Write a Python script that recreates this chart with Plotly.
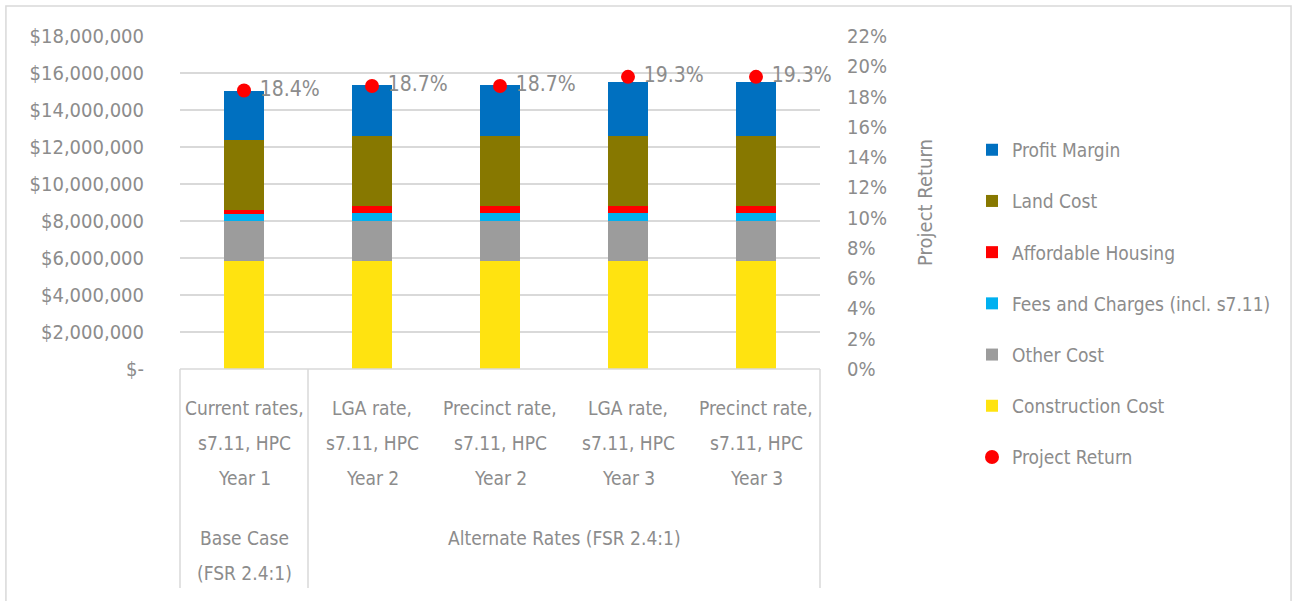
import plotly.graph_objects as go

# Scenario categories (x axis, inner level), one string per line
categories = [
    ["Current rates,", "s7.11, HPC", "Year 1"],
    ["LGA rate,", "s7.11, HPC", "Year 2"],
    ["Precinct rate,", "s7.11, HPC", "Year 2"],
    ["LGA rate,", "s7.11, HPC", "Year 3"],
    ["Precinct rate,", "s7.11, HPC", "Year 3"],
]
# outer level: (label lines, first category index, last category index)
groups = [
    (["Base Case", "(FSR 2.4:1)"], 0, 0),
    (["Alternate Rates (FSR 2.4:1)"], 1, 4),
]

# Cost components ($), bottom to top of each stack
construction_cost = [5830000, 5830000, 5830000, 5850000, 5850000]
other_cost = [2190000, 2190000, 2190000, 2170000, 2170000]
fees_charges = [380000, 430000, 430000, 430000, 430000]
affordable_housing = [200000, 340000, 340000, 340000, 340000]
land_cost = [3790000, 3780000, 3780000, 3780000, 3780000]
profit_margin = [2640000, 2770000, 2770000, 2930000, 2930000]

# Project return (right axis)
project_return = [0.184, 0.187, 0.187, 0.193, 0.193]

left_ticks = [0, 2e6, 4e6, 6e6, 8e6, 10e6, 12e6, 14e6, 16e6, 18e6]
left_ticktext = ["$-", "$2,000,000", "$4,000,000", "$6,000,000", "$8,000,000",
                 "$10,000,000", "$12,000,000", "$14,000,000", "$16,000,000", "$18,000,000"]
right_ticks = [i / 100 for i in range(0, 23, 2)]

FONT = "DejaVu Sans Condensed, Liberation Sans Narrow, sans-serif"
GREY = "#8c8c8c"

x_idx = list(range(len(categories)))
x_names = [" ".join(c) for c in categories]

series = [
    ("Construction Cost", construction_cost, "#ffe310", 6),
    ("Other Cost", other_cost, "#9c9c9c", 5),
    ("Fees and Charges (incl. s7.11)", fees_charges, "#00b0f0", 4),
    ("Affordable Housing", affordable_housing, "#ff0000", 3),
    ("Land Cost", land_cost, "#877800", 2),
    ("Profit Margin", profit_margin, "#0070c0", 1),
]

fig = go.Figure()

for name, vals, color, rank in series:
    fig.add_trace(go.Bar(
        x=x_idx, y=vals, name=name, customdata=x_names,
        marker=dict(color=color, line=dict(width=0)),
        legendrank=rank, legendgroup=name,
    ))

fig.add_trace(go.Scatter(
    x=x_idx, y=project_return, name="Project Return",
    yaxis="y2", mode="markers+text",
    marker=dict(color="#ff0000", size=14),
    text=[f"\u00a0{v * 100:.1f}%" for v in project_return],
    textposition="middle right",
    textfont=dict(size=21, color=GREY, family=FONT),
    cliponaxis=False,
    legendrank=7, legendgroup="Project Return",
))

fig.update_layout(
    barmode="stack",
    bargap=0.69,
    width=1292, height=601,
    autosize=False,
    margin=dict(l=180, r=472, t=36, b=232),
    paper_bgcolor="white",
    plot_bgcolor="white",
    font=dict(family=FONT, size=20, color=GREY),
    xaxis=dict(
        range=[-0.5, 4.5],
        showgrid=False, ticks="", showline=False, zeroline=False,
        showticklabels=False, automargin=False,
    ),
    yaxis=dict(
        range=[0, 18e6],
        tickvals=left_ticks, ticktext=left_ticktext,
        gridcolor="#d9d9d9", gridwidth=1.5,
        zeroline=False, showline=False,
        tickfont=dict(size=20, color=GREY),
        ticklabelstandoff=35, automargin=False,
    ),
    yaxis2=dict(
        overlaying="y", side="right",
        range=[0, 0.22],
        tickvals=right_ticks, tickformat=".0%",
        showgrid=False, zeroline=False, showline=False,
        tickfont=dict(size=20, color=GREY),
        ticklabelstandoff=26, automargin=False,
        title=dict(text="Project Return", font=dict(size=20, color=GREY), standoff=31),
    ),
    legend=dict(
        x=1.2375, y=0.715, xanchor="left", yanchor="top",
        traceorder="grouped", tracegroupgap=23.5,
        font=dict(size=19, color=GREY),
        bgcolor="rgba(0,0,0,0)",
        maxheight=560,
    ),
    showlegend=True,
)


def ypaper(px):
    # pixel row -> paper y (plot area spans rows 36..369)
    return (369 - px) / 333


# category labels, one annotation per line
line_rows = [408, 443, 478]
for i, lines in enumerate(categories):
    for row, txt in zip(line_rows, lines):
        fig.add_annotation(x=i, y=ypaper(row), xref="x", yref="paper", text=txt,
                           showarrow=False, yanchor="middle",
                           font=dict(size=19, color=GREY))

group_rows = [538, 573]
for lines, first, last in groups:
    for row, txt in zip(group_rows, lines):
        fig.add_annotation(x=(first + last) / 2, y=ypaper(row), xref="x", yref="paper",
                           text=txt, showarrow=False, yanchor="middle",
                           font=dict(size=19, color=GREY))

# category axis box lines
line_style = dict(color="#d9d9d9", width=1.5)
fig.add_shape(type="line", xref="paper", yref="paper", x0=0, x1=1, y0=0, y1=0, line=line_style)
for xp in [0, 0.2, 1]:
    fig.add_shape(type="line", xref="paper", yref="paper",
                  x0=xp, x1=xp, y0=0, y1=ypaper(588), line=line_style)

# outer chart border
fig.add_shape(type="rect", xref="paper", yref="paper",
              x0=-0.272, x1=1.736, y0=ypaper(6), y1=ypaper(640),
              line=dict(color="#d9d9d9", width=1.5))

fig.write_html(
    "out.html",
    config={"displayModeBar": False},
    post_script="document.body.style.margin='0';document.body.style.overflow='hidden';",
)
